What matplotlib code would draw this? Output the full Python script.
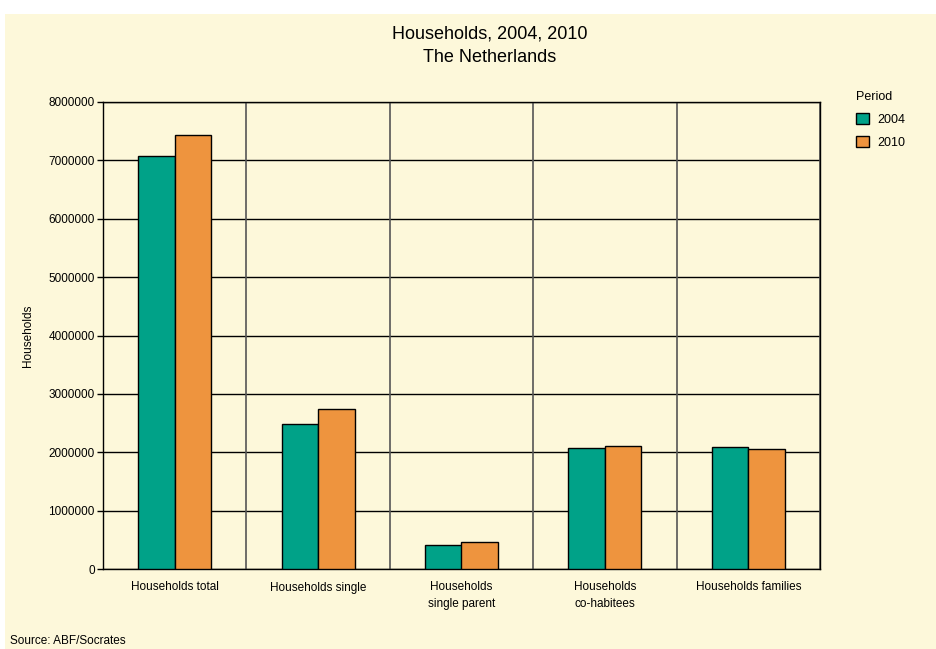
import numpy as np
import matplotlib.pyplot as plt
from matplotlib.patches import Rectangle

plt.rcParams['font.family'] = ['Liberation Sans', 'DejaVu Sans']

# data
categories = ["Households total", "Households single", "Households\nsingle parent",
              "Households\nco-habitees", "Households families"]
values_2004 = [7070000, 2480000, 410000, 2070000, 2090000]
values_2010 = [7430000, 2740000, 470000, 2110000, 2050000]
periods = ["2004", "2010"]
yticks = [0, 1000000, 2000000, 3000000, 4000000, 5000000, 6000000, 7000000, 8000000]

cream = "#FDF8DA"
teal = "#00A288"
orange = "#EE943E"

fig = plt.figure(figsize=(9.36, 6.49), dpi=100, facecolor="white")
# cream panel (white margin at top and left)
fig.patches.append(Rectangle((5/936, 0), 1, 1 - 14/649, transform=fig.transFigure,
                             facecolor=cream, edgecolor="none", zorder=-10))

ax = fig.add_axes([103/936, 1 - 569/649, 717/936, 467/649])
ax.set_facecolor(cream)

x = np.arange(len(categories))
w = 0.254
ax.bar(x - w/2, values_2004, w, color=teal, edgecolor="black", linewidth=1, label=periods[0], zorder=3)
ax.bar(x + w/2, values_2010, w, color=orange, edgecolor="black", linewidth=1, label=periods[1], zorder=3)

ax.set_xlim(-0.5, len(categories) - 0.5)
ax.set_ylim(0, 8000000)
ax.set_yticks(yticks)
ax.set_yticklabels([str(v) for v in yticks], fontsize=8.5)
ax.set_xticks(x)
ax.set_xticklabels(categories, fontsize=8.5, linespacing=1.5)
ax.tick_params(axis="x", length=0, pad=9)
ax.tick_params(axis="y", length=4, width=1, pad=2)

# grid: horizontal at ticks, vertical at category borders
for v in yticks:
    ax.axhline(v, color="black", linewidth=1, zorder=1)
for b in np.arange(-0.5, len(categories), 1.0):
    ax.axvline(b, color="#555555", linewidth=1.2, zorder=1)
for s in ax.spines.values():
    s.set_color("black")
    s.set_linewidth(1)

ax.set_ylabel("Households", fontsize=8.5, labelpad=10)

fig.text(490/936, 1 - 34/649, "Households, 2004, 2010", ha="center", va="center", fontsize=13)
fig.text(490/936, 1 - 58/649, "The Netherlands", ha="center", va="center", fontsize=13)

leg = fig.legend(loc="upper left", bbox_to_anchor=(845/936, 1 - 80/649), title="Period",
                 frameon=False, fontsize=9, title_fontsize=9, handlelength=1.0,
                 handleheight=1.0, handletextpad=0.7, labelspacing=0.8)
leg._legend_box.align = "left"

fig.text(10/936, 2/649, "Source: ABF/Socrates", ha="left", va="bottom", fontsize=8.5)

fig.savefig("out.png", dpi=100, facecolor=fig.get_facecolor())
